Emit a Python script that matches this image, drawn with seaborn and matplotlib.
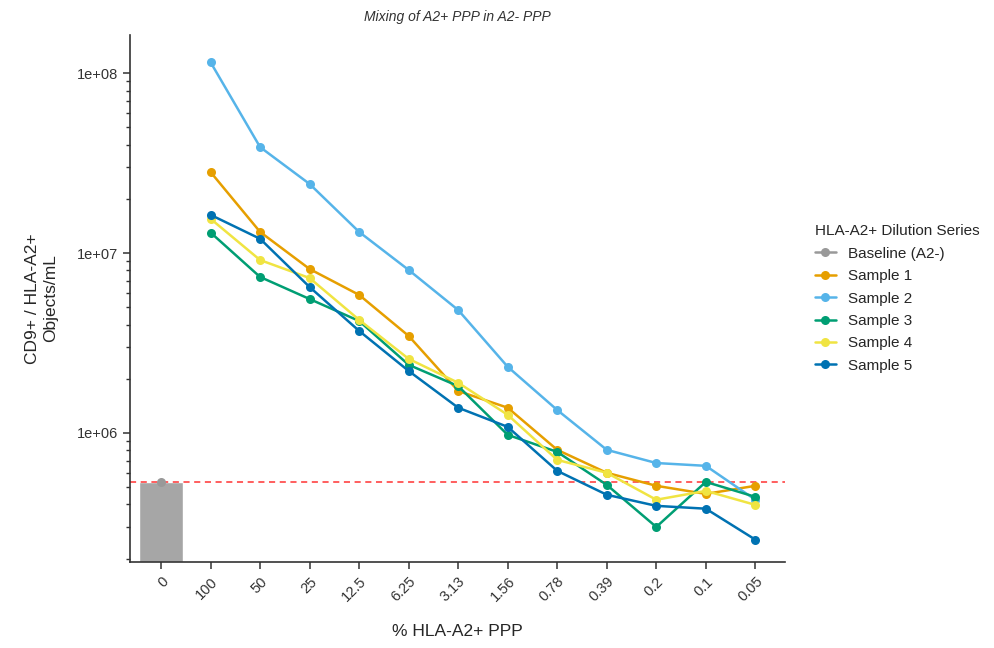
import matplotlib
matplotlib.use("Agg")
import matplotlib.pyplot as plt
import matplotlib.ticker as mticker
import seaborn as sns
import pandas as pd
import numpy as np

# dilution steps (% HLA-A2+ PPP), first category is the A2- baseline
dilutions = ["0", "100", "50", "25", "12.5", "6.25", "3.13", "1.56", "0.78", "0.39", "0.2", "0.1", "0.05"]

baseline = 5.3e5

sample_1 = [2.82e7, 1.31e7, 8.15e6, 5.85e6, 3.46e6, 1.71e6, 1.38e6, 8.05e5, 6.0e5, 5.08e5, 4.58e5, 5.08e5]
sample_2 = [1.15e8, 3.88e7, 2.42e7, 1.31e7, 8.05e6, 4.82e6, 2.33e6, 1.34e6, 8.05e5, 6.8e5, 6.56e5, 4.25e5]
sample_3 = [1.30e7, 7.36e6, 5.55e6, 4.19e6, 2.39e6, 1.82e6, 9.75e5, 7.84e5, 5.14e5, 3.0e5, 5.34e5, 4.41e5]
sample_4 = [1.55e7, 9.14e6, 7.26e6, 4.25e6, 2.58e6, 1.90e6, 1.26e6, 7.08e5, 6.0e5, 4.25e5, 4.76e5, 3.98e5]
sample_5 = [1.63e7, 1.20e7, 6.47e6, 3.69e6, 2.21e6, 1.38e6, 1.08e6, 6.15e5, 4.53e5, 3.93e5, 3.79e5, 2.55e5]

series_names = ["Baseline (A2-)", "Sample 1", "Sample 2", "Sample 3", "Sample 4", "Sample 5"]
colors = ["#999999", "#E69F00", "#56B4E9", "#009E73", "#F0E442", "#0072B2"]

# long-form table for seaborn
rows = [{"pos": 0, "value": baseline, "series": series_names[0]}]
for name, vals in zip(series_names[1:], [sample_1, sample_2, sample_3, sample_4, sample_5]):
    for i, v in enumerate(vals):
        rows.append({"pos": i + 1, "value": v, "series": name})
df = pd.DataFrame(rows)

sns.set_theme(style="ticks")
plt.rcParams['font.family'] = ['Liberation Sans', 'DejaVu Sans']

fig = plt.figure(figsize=(9.95, 6.48), dpi=100)
ax = fig.add_axes([0.131, 0.133, 0.658, 0.813])

ymin, ymax = 1.92e5, 1.63e8

# baseline bar (starts at the bottom of the log axis)
ax.bar(0, baseline - ymin, width=0.9, bottom=ymin, color="#A6A6A6", zorder=1)

sns.lineplot(data=df, x="pos", y="value", hue="series", hue_order=series_names,
             palette=colors, marker="o", markersize=6.5, markeredgewidth=0,
             linewidth=1.8, ax=ax, zorder=3)

ax.axhline(baseline, color="#FF3333", linestyle=(0, (4, 3)), linewidth=1.1, zorder=2)

ax.set_yscale("log")
ax.set_ylim(ymin, ymax)
ax.set_xlim(-0.62, 12.6)
ax.set_yticks([1e6, 1e7, 1e8])
ax.set_yticklabels(["1e+06", "1e+07", "1e+08"])
ax.yaxis.set_minor_locator(mticker.LogLocator(base=10, subs=np.arange(2, 10)))
ax.yaxis.set_minor_formatter(mticker.NullFormatter())

ax.set_xticks(range(len(dilutions)))
ax.set_xticklabels(dilutions, rotation=45, ha="right", rotation_mode="anchor")

for s in ["top", "right"]:
    ax.spines[s].set_visible(False)
for s in ["left", "bottom"]:
    ax.spines[s].set_color("#333333")
    ax.spines[s].set_linewidth(1.2)
ax.tick_params(axis="both", which="major", length=5, width=1.1, color="#333333",
               labelsize=10.5, labelcolor="#333333")
ax.tick_params(axis="y", which="minor", length=3, width=1.0, color="#333333")
ax.tick_params(axis="x", pad=4)

ax.set_xlabel("% HLA-A2+ PPP", fontsize=12.5, labelpad=14)
ax.set_ylabel("CD9+ / HLA-A2+\nObjects/mL", fontsize=12.5, labelpad=14)
ax.set_title("Mixing of A2+ PPP in A2- PPP", fontsize=10, style="italic", color="#333333", pad=10)

handles, labels = ax.get_legend_handles_labels()
ax.legend(handles, labels, title="HLA-A2+ Dilution Series", frameon=False,
          loc="upper left", bbox_to_anchor=(0.805, 0.675), bbox_transform=fig.transFigure,
          fontsize=11, title_fontsize=11, handlelength=1.4, labelspacing=0.55,
          alignment="left")

fig.savefig("out.png", dpi=100)
